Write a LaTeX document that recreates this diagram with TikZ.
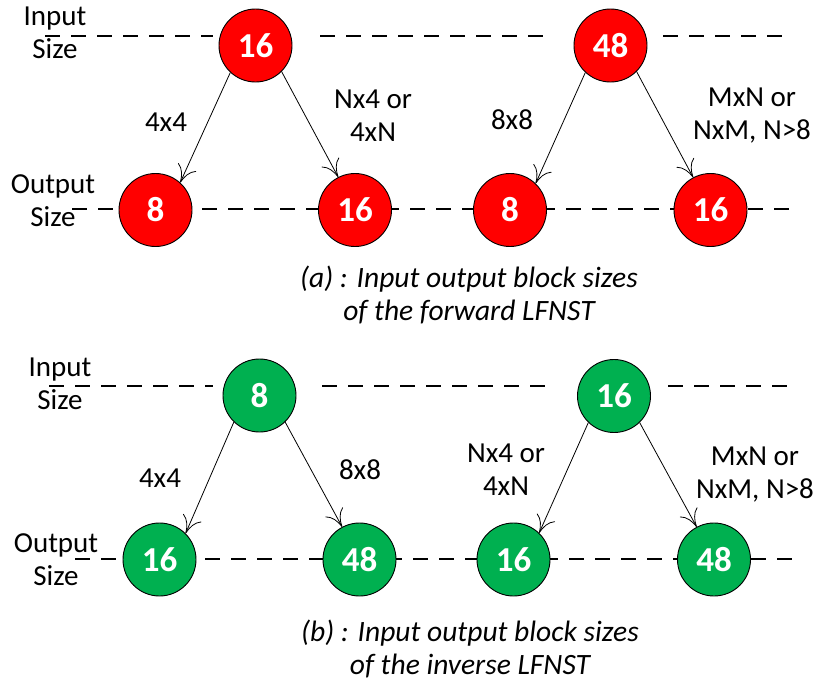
\documentclass[tikz,border=0pt]{standalone}
\usepackage{fontspec}
\setmainfont{Carlito}
\usetikzlibrary{arrows.meta}
\definecolor{cred}{RGB}{255,0,0}
\definecolor{cgreen}{RGB}{0,176,80}
\begin{document}
\begin{tikzpicture}[x=1pt,y=-1pt,
  blk/.style={circle, draw=black, line width=0.9pt, minimum size=73pt, inner sep=0pt, text=white, font=\fontsize{35}{35}\selectfont\bfseries},
  redblk/.style={blk, fill=cred},
  grnblk/.style={blk, fill=cgreen},
  lvl/.style={line width=2pt, dash pattern=on 15pt off 11pt},
  arr/.style={line width=0.8pt, -{Computer Modern Rightarrow[length=17pt,width=20pt,line width=0.8pt]}},
  lbl/.style={font=\fontsize{29}{33}\selectfont, align=center, inner sep=0pt},
  captext/.style={font=\fontsize{29.5}{33}\selectfont\itshape, align=center, inner sep=0pt}]
\useasboundingbox (0,0) rectangle (815,689);

% ---------- (a) forward ----------
\coordinate (a1s) at (45,36);  \coordinate (a1e) at (213,36);
\coordinate (a2s) at (320,36); \coordinate (a2e) at (548,36);
\coordinate (a3s) at (663,36); \coordinate (a3e) at (784,36);
\draw[lvl] (a1s) -- (a1e);
\draw[lvl] (a2s) -- (a2e);
\draw[lvl] (a3s) -- (a3e);
\coordinate (aos) at (72,209); \coordinate (aoe) at (796,209);
\draw[lvl] (aos) -- (aoe);

\node[lbl] (ain) at (55,33) {Input\\Size};
\node[lbl] (aout) at (53,201) {Output\\Size};

\node[redblk] (at1) at (255.5,45.5) {16};
\node[redblk] (at2) at (610.5,45.5) {48};
\node[redblk] (ab1) at (155.5,210) {8};
\node[redblk] (ab2) at (355,210) {16};
\node[redblk] (ab3) at (510,210) {8};
\node[redblk] (ab4) at (710.5,210) {16};

\draw[arr] (at1.227) -- (ab1.48);
\draw[arr] (at1.315) -- (ab2.117);
\draw[arr] (at2.227) -- (ab3.46);
\draw[arr] (at2.315) -- (ab4.118);

\node[lbl] (al1) at (166,122) {4x4};
\node[lbl] (al2) at (373,116) {Nx4 or\\4xN};
\node[lbl] (al3) at (512,120) {8x8};
\node[lbl] (al4) at (752,116) {MxN or\\NxM, N>8};

\node[captext] (acap) at (469,295) {(a) : Input output block sizes\\of the forward LFNST};

% ---------- (b) inverse ----------
\coordinate (b1s) at (49,386);  \coordinate (b1e) at (213,386);
\coordinate (b2s) at (322,386); \coordinate (b2e) at (550,386);
\coordinate (b3s) at (668,386); \coordinate (b3e) at (788,386);
\draw[lvl] (b1s) -- (b1e);
\draw[lvl] (b2s) -- (b2e);
\draw[lvl] (b3s) -- (b3e);
\coordinate (bos) at (75,559); \coordinate (boe) at (796,559);
\draw[lvl] (bos) -- (boe);

\node[lbl] (bin) at (60,384) {Input\\Size};
\node[lbl] (bout) at (56,560) {Output\\Size};

\node[grnblk] (bt1) at (259.5,395.5) {8};
\node[grnblk] (bt2) at (614,396) {16};
\node[grnblk] (bb1) at (159.5,559.5) {16};
\node[grnblk] (bb2) at (359.5,559.5) {48};
\node[grnblk] (bb3) at (513.5,559.5) {16};
\node[grnblk] (bb4) at (714,559.5) {48};

\draw[arr] (bt1.226) -- (bb1.45);
\draw[arr] (bt1.314) -- (bb2.118);
\draw[arr] (bt2.226) -- (bb3.46);
\draw[arr] (bt2.314) -- (bb4.118);

\node[lbl] (bl1) at (160,478) {4x4};
\node[lbl] (bl2) at (360,470) {8x8};
\node[lbl] (bl3) at (506,470) {Nx4 or\\4xN};
\node[lbl] (bl4) at (755,475) {MxN or\\NxM, N>8};

\node[captext] (bcap) at (470,649) {(b) : Input output block sizes\\of the inverse LFNST};
\end{tikzpicture}
\end{document}
